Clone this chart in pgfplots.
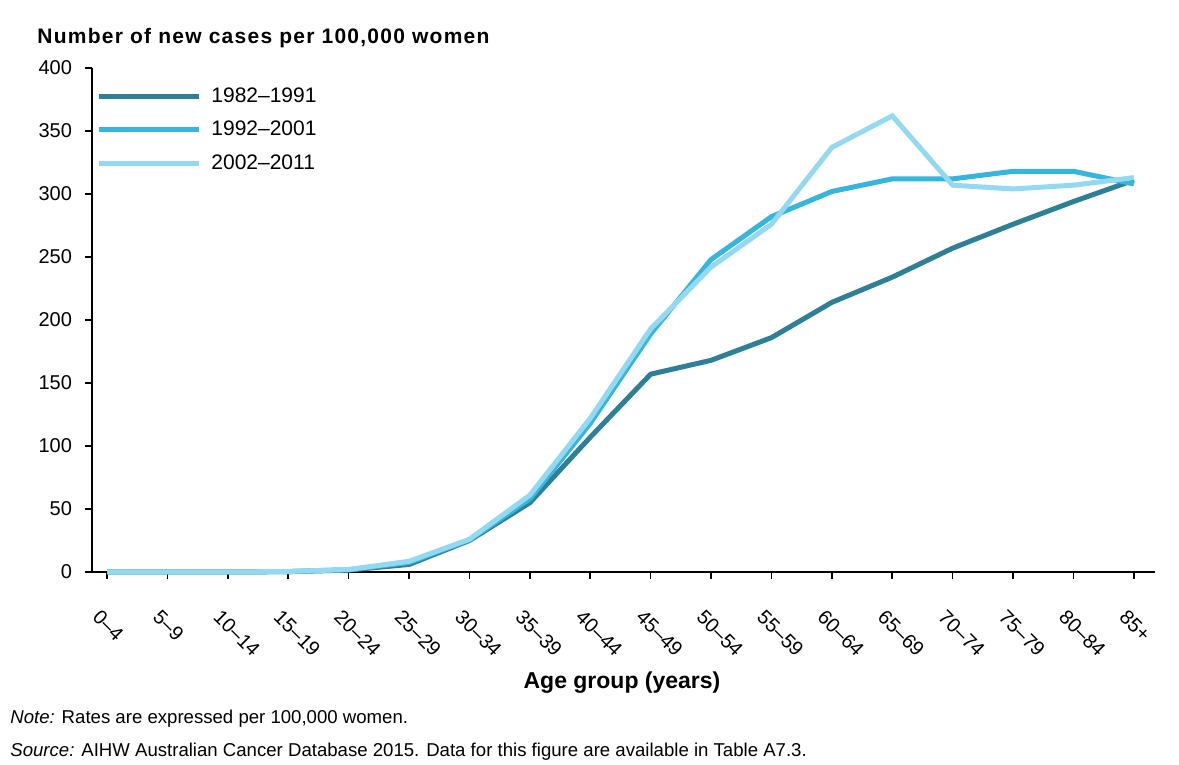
\documentclass[border=0pt]{standalone}
\usepackage{fontspec}
\setmainfont{Liberation Sans}
\usepackage{pgfplots}
\pgfplotsset{compat=1.18}
\definecolor{cA}{HTML}{2E8099}
\definecolor{cB}{HTML}{35B6DE}
\definecolor{cC}{HTML}{93D9F2}
\begin{document}
\begin{tikzpicture}
\path[use as bounding box] (0pt,0pt) rectangle (589.5pt,382.5pt);
\begin{axis}[
  at={(46pt,96.5pt)}, anchor=south west,
  width=531.5pt, height=252pt, scale only axis,
  xmin=-0.25, xmax=17.35, ymin=0, ymax=400,
  axis x line=bottom, axis y line=left,
  axis line style={-, line width=0.8pt},
  tick align=outside, major tick length=3.5pt,
  tick style={black, line width=0.8pt},
  xtick={0,...,17},
  xticklabels={0–4,5–9,10–14,15–19,20–24,25–29,30–34,35–39,40–44,45–49,50–54,55–59,60–64,65–69,70–74,75–79,80–84,85+},
  ytick={0,50,...,400},
  /pgf/number format/assume math mode=true,
  ticklabel style={font=\fontsize{10}{12}\selectfont},
  xticklabel style={rotate=-45, anchor=west, xshift=4.9pt, yshift=-16pt},
  yticklabel style={xshift=-3pt},
  legend cell align=left,
  legend image code/.code={\draw[#1] (0pt,0pt) -- (50pt,0pt);},
  legend style={at={(axis description cs:0,1)}, anchor=north west, xshift=-1pt, yshift=-5.5pt,
    draw=none, fill=none, font=\fontsize{10.5}{12}\selectfont, row sep=4pt,
    /tikz/every odd column/.append style={column sep=3pt}},
  clip=false,
]
\addplot[cA, line width=2.5pt] coordinates {
(0,0) (1,0) (2,0) (3,0.3) (4,1.5) (5,6) (6,25) (7,55) (8,107) (9,157) (10,168) (11,186) (12,214) (13,234) (14,257) (15,276) (16,294) (17,311)};
\addlegendentry{1982–1991}
\addplot[cB, line width=2.5pt] coordinates {
(0,0) (1,0) (2,0) (3,0.3) (4,1.8) (5,7.5) (6,25.5) (7,58) (8,118) (9,189) (10,248) (11,282) (12,302) (13,312) (14,312) (15,318) (16,318) (17,308)};
\addlegendentry{1992–2001}
\addplot[cC, line width=2.5pt] coordinates {
(0,0) (1,0) (2,0) (3,0.4) (4,2) (5,8.5) (6,26) (7,61) (8,122) (9,193) (10,242) (11,276) (12,337) (13,362) (14,307) (15,304) (16,307) (17,313)};
\addlegendentry{2002–2011}
\end{axis}
\node[anchor=west, inner sep=0pt, font=\bfseries\fontsize{10.5}{12}\selectfont\addfontfeature{LetterSpace=6}] at (18.5pt,363.5pt) {Number of new cases per 100,000 women};
\node[anchor=center, font=\bfseries\fontsize{11.5}{13}\selectfont] at (311pt,41pt) {Age group (years)};
\node[anchor=west, inner sep=0pt, font=\fontsize{9.3}{11}\selectfont] at (5pt,23pt) {\textit{Note:} Rates are expressed per 100,000 women.};
\node[anchor=west, inner sep=0pt, font=\fontsize{9.3}{11}\selectfont] at (5pt,6.5pt) {\textit{Source:} AIHW Australian Cancer Database 2015. Data for this figure are available in Table A7.3.};
\end{tikzpicture}
\end{document}
